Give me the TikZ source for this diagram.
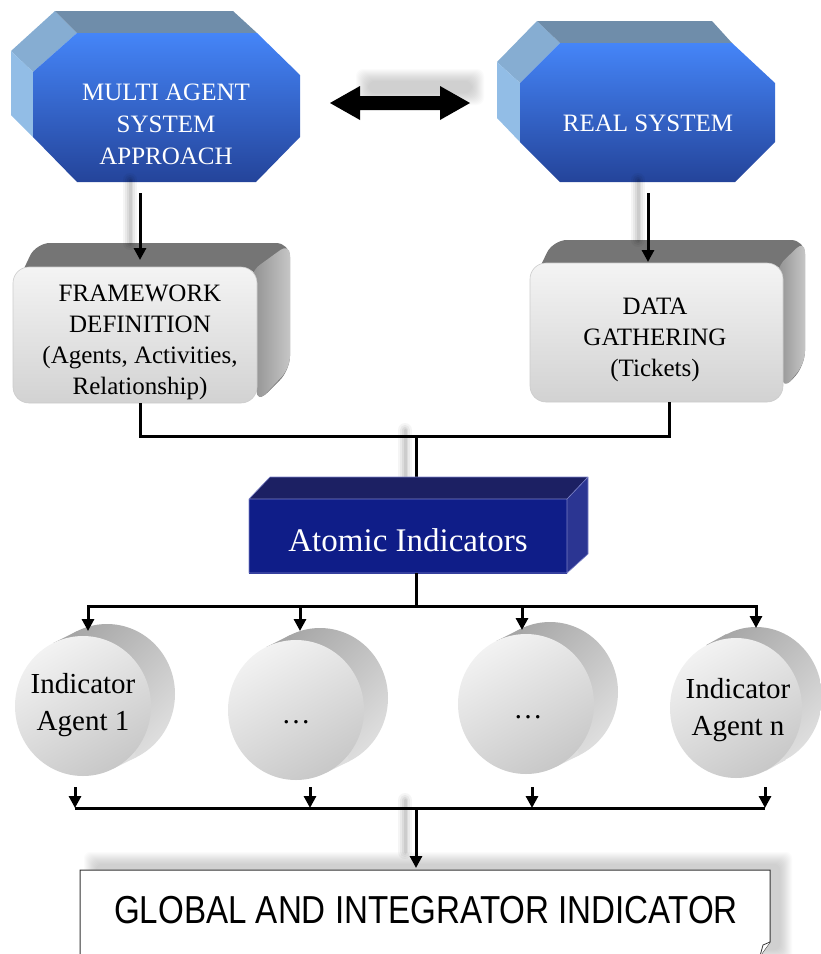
\documentclass[tikz,border=0pt]{standalone}
\usepackage{fontspec}
\setmainfont{Liberation Serif}
\newfontfamily\plainsans{Liberation Sans}
\usetikzlibrary{arrows.meta}

% palette
\definecolor{octTop}{HTML}{6F8DAA}
\definecolor{octSideA}{HTML}{86ADD2}
\definecolor{octSideB}{HTML}{92BDE6}
\definecolor{octHi}{HTML}{4585F8}
\definecolor{octLo}{HTML}{24449A}
\definecolor{boxTop}{HTML}{757575}
\definecolor{boxSideA}{HTML}{8E8E8E}
\definecolor{boxSideB}{HTML}{C6C6C6}
\definecolor{boxHi}{HTML}{F4F4F4}
\definecolor{boxLo}{HTML}{D2D2D2}
\definecolor{navyTop}{HTML}{1C2063}
\definecolor{navySide}{HTML}{2B3592}
\definecolor{navyDeep}{HTML}{0F1D88}
\definecolor{navyLight}{HTML}{3A41A0}
\definecolor{navyEdge}{HTML}{7C82C8}
\definecolor{discDark}{HTML}{A6A6A6}
\definecolor{discLight}{HTML}{DEDEDE}
\definecolor{discHi}{HTML}{F2F2F2}
\definecolor{discLo}{HTML}{C8C8C8}

\tikzset{
  wire/.style={draw=black, line width=3pt},
  flow/.style={wire, -{Triangle[length=12pt,width=12pt]}},
  bluetext/.style={text=white, align=center, font=\fontsize{25}{32}\selectfont},
  greytext/.style={text=black, align=center, font=\fontsize{25}{31}\selectfont},
  disctext/.style={text=black, align=center, font=\fontsize{29}{37}\selectfont},
}

% soft grey glow along a segment
\newcommand\glowline[2]{%
  \foreach \w/\o in {14/0.04,10/0.05,6/0.06,3/0.07}{%
    \draw[black, opacity=\o, line width=\w pt, line cap=round] #1 -- #2;}}

\begin{document}
\begin{tikzpicture}[x=1pt,y=-1pt]
\useasboundingbox (0,0) rectangle (821,954);
\clip (0,0) rectangle (821,954);

% ---------- MULTI AGENT SYSTEM APPROACH (bevelled block) ----------
\fill[octSideA] (11,51) -- (55,11) -- (77,33) -- (33,72) -- cycle;
\fill[octSideB] (11,51) -- (33,72) -- (33,137) -- (11,115) -- cycle;
\fill[octTop] (55,11) -- (233,11) -- (257,33) -- (77,33) -- cycle;
\shade[top color=octHi, bottom color=octLo]
  (77,33) -- (257,33) -- (300,75) -- (300,137) -- (256,182) -- (77,182) -- (33,137) -- (33,72) -- cycle;
\node[bluetext] (mas) at (166,124) {MULTI AGENT\\SYSTEM\\APPROACH};

% ---------- REAL SYSTEM (bevelled block) ----------
\fill[octSideA] (497,62) -- (537,21) -- (560,43) -- (520,83) -- cycle;
\fill[octSideB] (497,62) -- (520,83) -- (520,142) -- (497,118) -- cycle;
\fill[octTop] (537,21) -- (712,21) -- (732,43) -- (560,43) -- cycle;
\shade[top color=octHi, bottom color=octLo]
  (560,43) -- (732,43) -- (775,83) -- (775,142) -- (735,182) -- (560,182) -- (520,142) -- (520,83) -- cycle;
\node[bluetext] (real) at (648,123) {REAL SYSTEM};

% ---------- two-way arrow between the blocks, with its soft shadow ----------
\foreach \e in {0,1,...,12}{%
  \fill[black, opacity=0.016, rounded corners=7pt] ({368-\e},{81-\e}) rectangle ({472+\e},{93+\e});}
\fill[black] (330,103) -- (360,86) -- (360,96) -- (440,96) -- (440,86) -- (470,103)
  -- (440,120) -- (440,110) -- (360,110) -- (360,120) -- cycle;

% ---------- FRAMEWORK DEFINITION (rounded 3D box) ----------
\fill[boxTop, rounded corners=14pt] (13,292) -- (36,243) -- (290,243) -- (290,370) -- (257,403) -- (257,267) -- cycle;
\shade[left color=boxSideA, right color=boxSideB, rounded corners=12pt]
  (250,272) -- (290,243) -- (290,368) -- (257,403) -- cycle;
\shade[top color=boxHi, bottom color=boxLo, rounded corners=16pt, draw=white!80!black, line width=0.6pt]
  (13,267) rectangle (257,403);
\node[greytext] (fw) at (140,342) {FRAMEWORK\\DEFINITION\\(Agents, Activities,\\Relationship)};

% ---------- DATA GATHERING (rounded 3D box) ----------
\fill[boxTop, rounded corners=14pt] (530,288) -- (553,240) -- (805,240) -- (805,365) -- (783,390) -- (783,263) -- cycle;
\shade[left color=boxSideA, right color=boxSideB, rounded corners=12pt]
  (776,268) -- (805,240) -- (805,363) -- (783,390) -- cycle;
\shade[top color=boxHi, bottom color=boxLo, rounded corners=16pt, draw=white!80!black, line width=0.6pt]
  (530,263) rectangle (783,402);
\node[greytext] (dg) at (655,340) {DATA\\GATHERING\\(Tickets)};

% ---------- glows behind the upper connectors ----------
\glowline{(130,180)}{(130,243)}
\glowline{(638,180)}{(638,240)}
\glowline{(405,430)}{(405,482)}

% ---------- connectors: blocks to boxes, boxes to atomic indicators ----------
\coordinate (mas-out) at (140,193);
\coordinate (fw-in) at (140,260);
\coordinate (real-out) at (648,193);
\coordinate (dg-in) at (648,262);
\draw[flow] (mas-out) -- (fw-in);
\draw[flow] (real-out) -- (dg-in);

\coordinate (fw-out) at (140,403);
\coordinate (dg-out) at (669,402);
\coordinate (join) at (416,436);
\coordinate (atomic-in) at (416,478);
\draw[wire] (fw-out) |- (join) -| (dg-out);
\draw[wire] (join) -- (atomic-in);

% ---------- Atomic Indicators (3D bar) ----------
\fill[navyTop] (249,499) -- (270,477) -- (588,477) -- (567,499) -- cycle;
\fill[navySide] (567,499) -- (588,477) -- (588,554) -- (567,573) -- cycle;
\shade[left color=navyDeep, middle color=navyLight, right color=navyDeep, shading angle=75]
  (249,499) rectangle (567,573);
\draw[navyEdge, line width=0.6pt, line join=round]
  (249,573) -- (249,499) -- (270,477) -- (588,477) -- (588,554) -- (567,573) -- cycle
  (249,499) -- (567,499) -- (588,477) (567,499) -- (567,573);
\node[text=white, font=\fontsize{33}{38}\selectfont] (atomic) at (408,540) {Atomic Indicators};

% ---------- fan-out to the indicator agents ----------
\coordinate (atomic-out) at (416,573);
\coordinate (fan) at (416,606);
\coordinate (ind1-in) at (88,631);
\coordinate (ind2-in) at (300,631);
\coordinate (ind3-in) at (522,630);
\coordinate (ind4-in) at (756,628);

% ---------- indicator agent discs ----------
\foreach \cx/\cy/\dx/\dy/\rx in {83/706/24/-12/68, 296/710/24/-12/68, 526/704/24/-12/68, 736/708/20/-11/66}{%
  \shade[top color=discDark, bottom color=discLight, shading angle=45]
    ({\cx+\dx},{\cy+\dy}) ellipse [x radius=\rx, y radius=70];
  \shade[top color=discDark, bottom color=discLight, shading angle=45]
    ({\cx-29.7},{\cy-63}) -- ({\cx-29.7+\dx},{\cy-63+\dy}) -- ({\cx+29.7+\dx},{\cy+63+\dy}) -- ({\cx+29.7},{\cy+63}) -- cycle;
  \shade[top color=discHi, bottom color=discLo, shading angle=30]
    (\cx,\cy) ellipse [x radius=\rx, y radius=70];
}
\node[disctext] (ind1) at (83,705) {Indicator\\Agent 1};
\node[disctext, anchor=base] (ind2) at (296,723) {\dots};
\node[disctext, anchor=base] (ind3) at (528,718) {\dots};
\node[disctext] (ind4) at (738,710) {Indicator\\Agent n};

\draw[wire] (atomic-out) -- (fan);
\draw[flow] (fan) -| (ind1-in);
\draw[flow] (fan) -| (ind2-in);
\draw[flow] (fan) -| (ind3-in);
\draw[flow] (fan) -| (ind4-in);

% ---------- merge into the global indicator ----------
\glowline{(405,800)}{(405,852)}
\coordinate (ind1-out) at (75,787);
\coordinate (ind2-out) at (310,787);
\coordinate (ind3-out) at (532,787);
\coordinate (ind4-out) at (765,787);
\coordinate (m1) at (75,808);
\coordinate (m2) at (310,808);
\coordinate (m3) at (532,808);
\coordinate (m4) at (765,808);
\coordinate (merge) at (416,808);
\coordinate (glob-in) at (416,868);
\draw[wire] (m1) -- (m4);
\draw[flow] (ind1-out) -- (m1);
\draw[flow] (ind2-out) -- (m2);
\draw[flow] (ind3-out) -- (m3);
\draw[flow] (ind4-out) -- (m4);

% ---------- GLOBAL AND INTEGRATOR INDICATOR (sheet with curled corner) ----------
\foreach \e in {0,1,...,12}{%
  \fill[black, opacity=0.016, rounded corners=6pt] ({96-\e},{864-\e}) rectangle ({780+\e},{950+\e});}
\filldraw[fill=white, draw=black!80, line width=1pt]
  (80,960) -- (80,870) -- (770,870) -- (770,942) -- (760,956) -- (760,960) -- cycle;
\filldraw[fill=white, draw=black!80, line width=0.8pt] (770,942) -- (763,945) -- (760,956);
\draw[flow] (merge) -- (glob-in);
\node[font=\plainsans\fontsize{39}{39}\selectfont] (glob) at (426,910)
  {\scalebox{0.85}[1]{GLOBAL AND INTEGRATOR INDICATOR}};

\end{tikzpicture}
\end{document}
